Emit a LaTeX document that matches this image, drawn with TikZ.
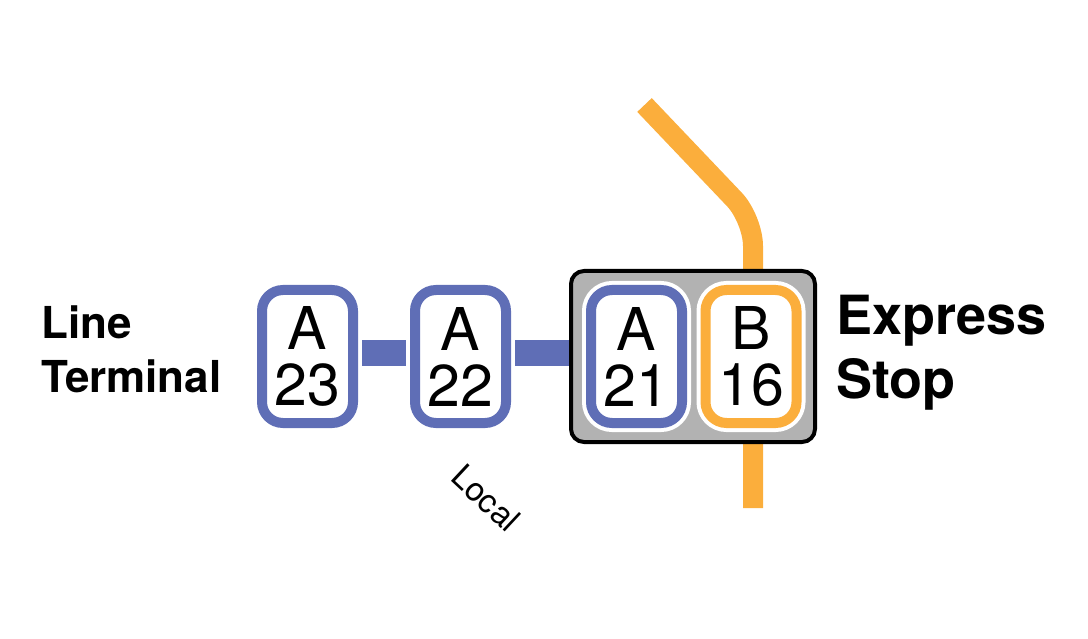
\documentclass[tikz,border=0pt]{standalone}
\usepackage{fontspec}
\setmainfont{TeX Gyre Heros}
\definecolor{lineA}{HTML}{5F6EB6}
\definecolor{lineB}{HTML}{FBAE3C}
\definecolor{hub}{HTML}{B2B2B2}
\tikzset{
	stop/.style={shape=rectangle, draw=#1, line width=10pt, fill=white, rounded corners=21pt, minimum width=91pt, minimum height=133pt, inner sep=0pt, align=center, font=\fontsize{59}{56}\selectfont},
	halo/.style={preaction={draw=white, line width=18pt}},
	link/.style={lineA, line width=25pt, shorten <=4pt},
	route/.style={lineB, line width=20pt},
	caption/.style 2 args={inner sep=0pt, align=left, font=\fontsize{#1}{#2}\selectfont\bfseries}
}
\begin{document}
\begin{tikzpicture}[x=1pt, y=-1pt]
	\useasboundingbox (0, 0) rectangle (1088, 639);
	% Orange route behind the hub:
	\coordinate (routeA) at (644.5, 105);
	\coordinate (routeB) at (753, 219);
	\coordinate (routeC) at (753, 508);
	\draw[route, rounded corners=27pt] (routeA) -- (routeB) -- (routeC);
	% Hub and stops:
	\node[shape=rectangle, draw=black, line width=4pt, fill=hub, rounded corners=13pt, minimum width=244pt, minimum height=171pt] (express) at (693, 356.5){};
	\node[stop=lineA] (a23) at (307.5, 356.5){A\\23};
	\node[stop=lineA] (a22) at (460.5, 356.5){A\\22};
	\node[stop=lineA, halo] (a21) at (636.5, 356.5){A\\21};
	\node[stop=lineB, halo] (b16) at (751, 356.5){B\\16};
	% Links between the stops:
	\draw[link, shorten >=4pt] ([yshift=3.5pt]a23.east) -- ([yshift=3.5pt]a22.west);
	\draw[link] ([yshift=3.5pt]a22.east) -- ([yshift=3.5pt]a22.east -| express.west);
	% Labels:
	\node[caption={44}{54}, anchor=west] (terminal) at (41, 349){Line\\Terminal};
	\node[caption={54}{64}, anchor=west] (stoplabel) at (836, 353){Express\\Stop};
	\node[inner sep=0pt, rotate=-43, font=\fontsize{33}{33}\selectfont] (local) at (486, 498){Local};
\end{tikzpicture}
\end{document}
